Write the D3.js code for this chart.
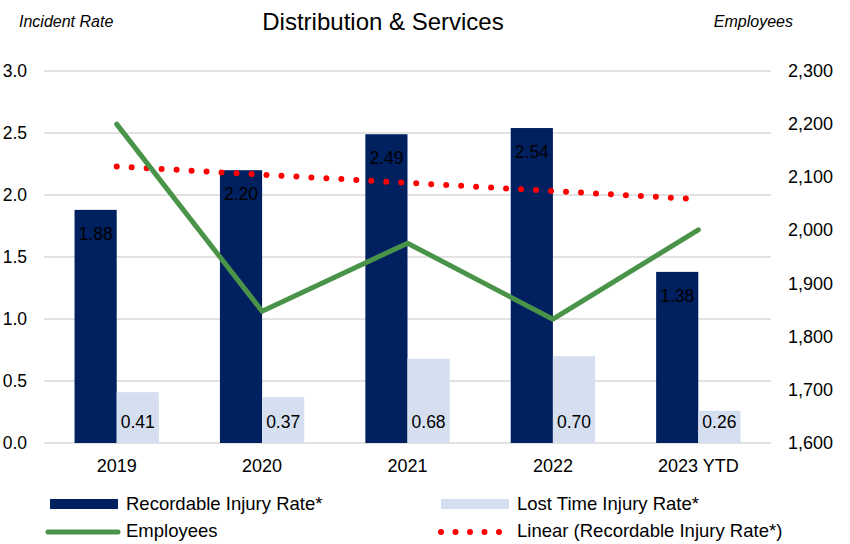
<!DOCTYPE html>
<html>
<head>
<meta charset="utf-8">
<script src="https://cdn.jsdelivr.net/npm/d3@7"></script>
<style>
  body { margin: 0; background: #fff; }
  text { font-family: "Liberation Sans", Arial, sans-serif; fill: #000; }
</style>
</head>
<body>
<div id="chart"></div>
<script>
var categories = ["2019", "2020", "2021", "2022", "2023 YTD"];
var recordableRate = [1.88, 2.20, 2.49, 2.54, 1.38];
var lostTimeRate = [0.41, 0.37, 0.68, 0.70, 0.26];
var employees = [2200, 1848, 1976, 1833, 2001];
var leftTicks = [0, 0.5, 1.0, 1.5, 2.0, 2.5, 3.0];
var rightTicks = [1600, 1700, 1800, 1900, 2000, 2100, 2200, 2300];

var width = 850, height = 544;
var plot = {left: 44, right: 771, top: 71, bottom: 443};

var svg = d3.select("#chart").append("svg").attr("width", width).attr("height", height);

var x0 = d3.scaleBand().domain(categories).range([plot.left, plot.right])
    .paddingInner(0.42).paddingOuter(0.21);
var x1 = d3.scaleBand().domain(["rec", "lost"]).range([0, x0.bandwidth()]);
var yL = d3.scaleLinear().domain([0, 3]).range([plot.bottom, plot.top]);
var yR = d3.scaleLinear().domain([1600, 2300]).range([plot.bottom, plot.top]);

// gridlines
svg.append("g").selectAll("line").data(leftTicks).enter().append("line")
    .attr("x1", plot.left).attr("x2", plot.right)
    .attr("y1", function (d) { return yL(d); }).attr("y2", function (d) { return yL(d); })
    .style("stroke", "#d9d9d9").style("stroke-width", 1.5);

// left axis labels
svg.append("g").selectAll("text").data(leftTicks).enter().append("text")
    .attr("x", 27).attr("y", function (d) { return yL(d) + 6; })
    .attr("text-anchor", "end").style("font-size", "17.5px")
    .text(function (d) { return d.toFixed(1); });

// right axis labels
svg.append("g").selectAll("text").data(rightTicks).enter().append("text")
    .attr("x", 833).attr("y", function (d) { return yR(d) + 6; })
    .attr("text-anchor", "end").style("font-size", "18px")
    .text(function (d) { return d3.format(",")(d); });

// category labels
svg.append("g").selectAll("text").data(categories).enter().append("text")
    .attr("x", function (d) { return x0(d) + x0.bandwidth() / 2; }).attr("y", 472)
    .attr("text-anchor", "middle").style("font-size", "18px")
    .text(function (d) { return d; });

// bars
var groups = svg.append("g").selectAll("g").data(categories).enter().append("g")
    .attr("transform", function (d) { return "translate(" + x0(d) + ",0)"; });

groups.append("rect")
    .attr("x", x1("rec")).attr("width", x1.bandwidth())
    .attr("y", function (d, i) { return yL(recordableRate[i]); })
    .attr("height", function (d, i) { return plot.bottom - yL(recordableRate[i]); })
    .style("fill", "#002060");

groups.append("rect")
    .attr("x", x1("lost")).attr("width", x1.bandwidth())
    .attr("y", function (d, i) { return yL(lostTimeRate[i]); })
    .attr("height", function (d, i) { return plot.bottom - yL(lostTimeRate[i]); })
    .style("fill", "#d5dfef");

groups.append("text")
    .attr("x", x1("rec") + x1.bandwidth() / 2)
    .attr("y", function (d, i) { return yL(recordableRate[i]) + 30; })
    .attr("text-anchor", "middle").style("font-size", "17.5px")
    .text(function (d, i) { return recordableRate[i].toFixed(2); });

groups.append("text")
    .attr("x", x1("lost") + x1.bandwidth() / 2)
    .attr("y", plot.bottom - 15)
    .attr("text-anchor", "middle").style("font-size", "17.5px")
    .text(function (d, i) { return lostTimeRate[i].toFixed(2); });

// linear trendline of recordable rate (least squares, like the spreadsheet)
var n = recordableRate.length;
var mx = d3.mean(d3.range(n)), my = d3.mean(recordableRate);
var slope = d3.sum(d3.range(n), function (i) { return (i - mx) * (recordableRate[i] - my); }) /
    d3.sum(d3.range(n), function (i) { return (i - mx) * (i - mx); });
var trend = [0, n - 1].map(function (i) { return {c: categories[i], v: my + slope * (i - mx)}; });

var cx = function (c) { return x0(c) + x0.bandwidth() / 2; };

svg.append("path")
    .attr("d", d3.line().x(function (d) { return cx(d.c); }).y(function (d) { return yL(d.v); })(trend))
    .style("fill", "none").style("stroke", "#ff0000").style("stroke-width", 6)
    .style("stroke-linecap", "round").style("stroke-dasharray", "0 15");

// employees line
svg.append("path")
    .attr("d", d3.line().x(function (d) { return cx(d); })
        .y(function (d, i) { return yR(employees[i]); })(categories))
    .style("fill", "none").style("stroke", "#4a944a").style("stroke-width", 5)
    .style("stroke-linecap", "round").style("stroke-linejoin", "round");

// titles
svg.append("text").attr("x", 383).attr("y", 30).attr("text-anchor", "middle")
    .style("font-size", "24px").text("Distribution & Services");
svg.append("text").attr("x", 19).attr("y", 27).style("font-size", "16px")
    .style("font-style", "italic").text("Incident Rate");
svg.append("text").attr("x", 793).attr("y", 27).attr("text-anchor", "end").style("font-size", "16px")
    .style("font-style", "italic").text("Employees");

// legend
var legend = svg.append("g");
legend.append("rect").attr("x", 50).attr("y", 499).attr("width", 68).attr("height", 10).style("fill", "#002060");
legend.append("text").attr("x", 126).attr("y", 510).style("font-size", "18.5px").text("Recordable Injury Rate*");
legend.append("rect").attr("x", 441).attr("y", 499).attr("width", 68).attr("height", 10).style("fill", "#d5dfef");
legend.append("text").attr("x", 517).attr("y", 510).style("font-size", "18.5px").text("Lost Time Injury Rate*");
legend.append("line").attr("x1", 48).attr("x2", 118).attr("y1", 532).attr("y2", 532)
    .style("stroke", "#4a944a").style("stroke-width", 5).style("stroke-linecap", "round");
legend.append("text").attr("x", 126).attr("y", 537).style("font-size", "18.5px").text("Employees");
legend.append("line").attr("x1", 441).attr("x2", 500).attr("y1", 532).attr("y2", 532)
    .style("stroke", "#ff0000").style("stroke-width", 6)
    .style("stroke-linecap", "round").style("stroke-dasharray", "0 14.5");
legend.append("text").attr("x", 517).attr("y", 537).style("font-size", "18.5px").text("Linear (Recordable Injury Rate*)");
</script>
</body>
</html>
